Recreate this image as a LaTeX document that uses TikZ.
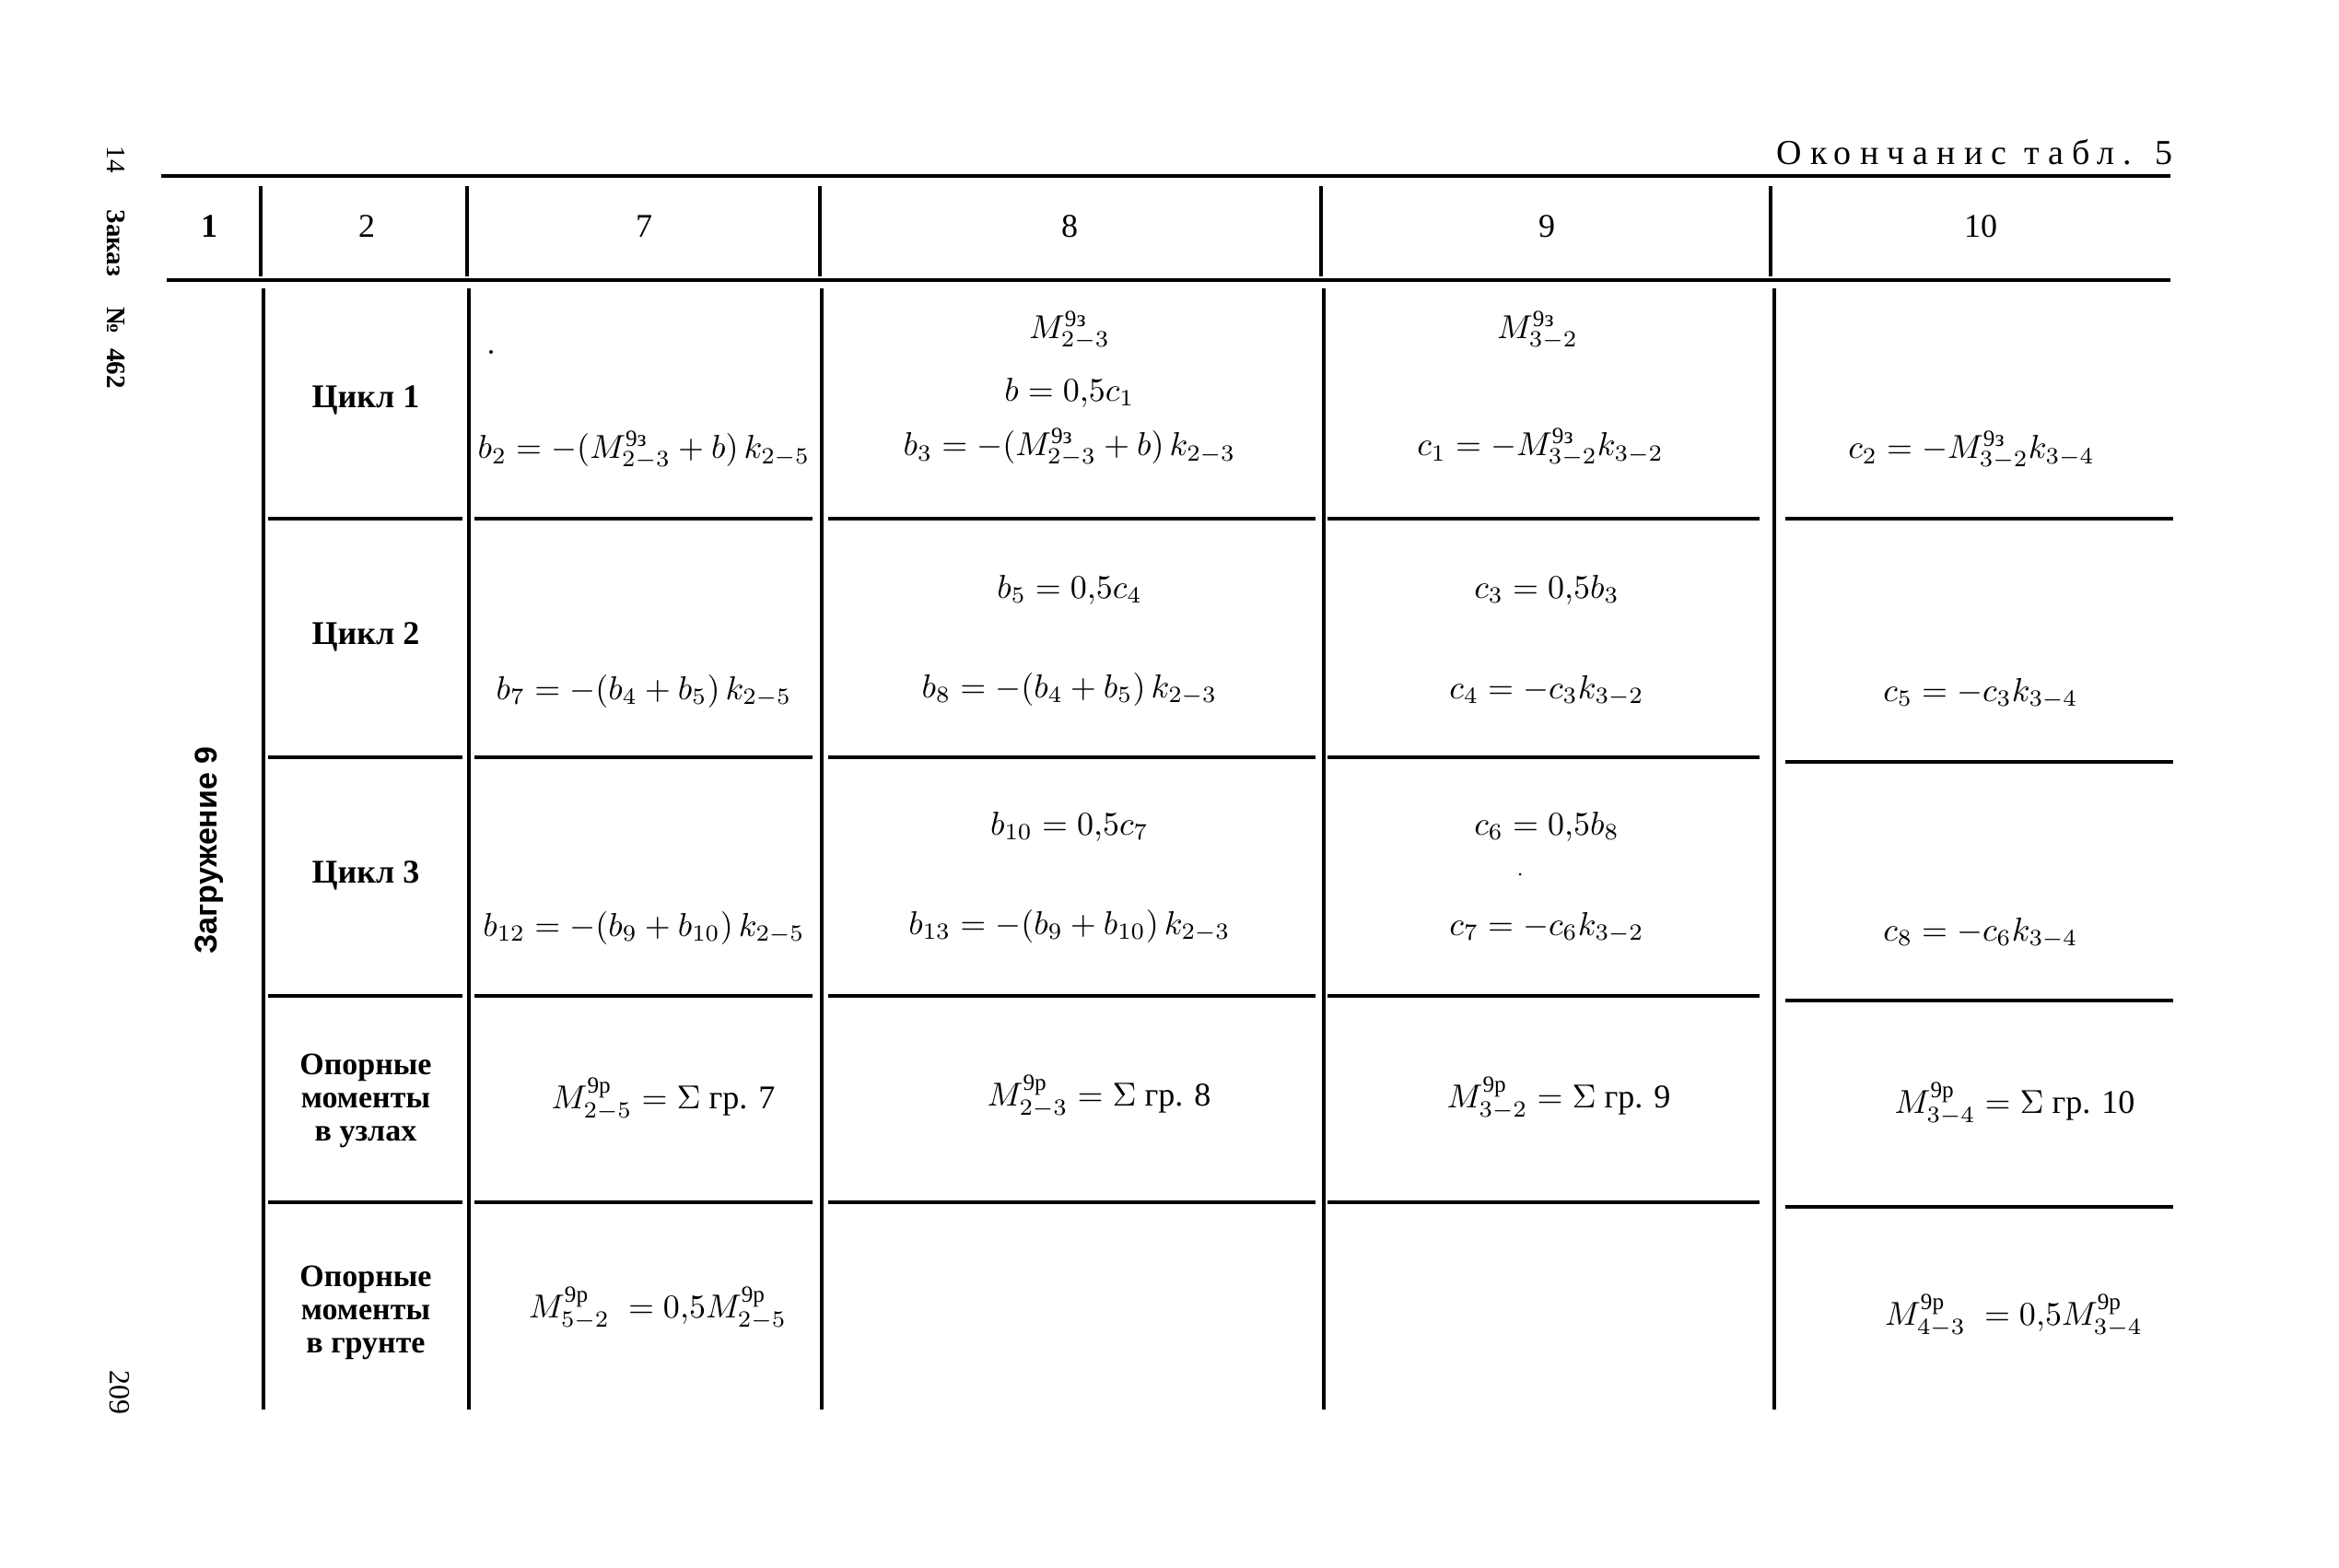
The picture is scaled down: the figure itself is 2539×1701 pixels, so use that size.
\documentclass[tikz,border=0pt]{standalone}
\usepackage{fontspec}
\usepackage{amsmath}
\setmainfont{Liberation Serif}
\setsansfont{Liberation Sans}
\newfontfamily\spacedfont[LetterSpace=24]{Liberation Serif}
\newcommand{\supz}{\text{9з}}
\newcommand{\supr}{\text{9р}}
\begin{document}
\begin{tikzpicture}[x=1pt,y=-1pt,
  rule/.style={line width=4.5pt},
  vline/.style={line width=3.2pt},
  hline/.style={line width=3.8pt},
  hdr/.style={scale=3.6,inner sep=0pt},
  lbl/.style={scale=3.4,inner sep=0pt,font=\bfseries,align=center},
  cyc/.style={scale=3.6,inner sep=0pt,font=\bfseries},
  fml/.style={scale=3.6,inner sep=0pt},
  marg/.style={scale=2.9,inner sep=0pt,rotate=-90},
]
\fill[white] (0,0) rectangle (2539,1701);
\useasboundingbox (0,0) rectangle (2539,1701);

% title and margin
\node[font=\spacedfont,scale=3.8,inner sep=0pt,anchor=east] (title) at (2359,165) {Окончанис табл. 5};
\node[marg] (m14) at (126,173) {14};
\node[marg,font=\bfseries] (mzak) at (126,264) {Заказ};
\node[marg,font=\bfseries] (mno) at (126,348) {№};
\node[marg,font=\bfseries] (m462) at (126,400) {462};
\node[marg,scale=1.1] (m209) at (130,1511) {209};

% rules
\draw[rule] (175,191) -- (2356,191);
\draw[rule] (181,304) -- (2356,304);
% header verticals
\foreach \x in {283,507,890,1434,1922} \draw[vline] (\x,202) -- (\x,300);
% body verticals
\foreach \x in {286,509,892,1437,1926} \draw[vline] (\x,313) -- (\x,1530);
% row separators
\foreach \y/\yy in {563/563,822/827,1081/1086,1305/1310} {
  \draw[hline] (291,\y) -- (502,\y);
  \draw[hline] (515,\y) -- (882,\y);
  \draw[hline] (899,\y) -- (1428,\y);
  \draw[hline] (1441,\y) -- (1910,\y);
  \draw[hline] (1938,\yy) -- (2359,\yy);
}

% header
\node[hdr,font=\bfseries] (h1) at (227,246) {1};
\node[hdr] (h2) at (398,246) {2};
\node[hdr] (h7) at (699,246) {7};
\node[hdr] (h8) at (1161,246) {8};
\node[hdr] (h9) at (1679,246) {9};
\node[hdr] (h10) at (2150,246) {10};

% column 1
\node[scale=3.4,inner sep=0pt,rotate=90,font=\sffamily\bfseries] (load) at (227,923) {Загружение 9};

% row labels
\node[cyc] (c1) at (397,434) {Цикл 1};
\node[cyc] (c2) at (397,691) {Цикл 2};
\node[cyc] (c3) at (397,950) {Цикл 3};
\node[lbl] (op1) at (397,1195) {Опорные\\[-1.4pt]моменты\\[-1.4pt]в узлах};
\node[lbl] (op2) at (397,1425) {Опорные\\[-1.4pt]моменты\\[-1.4pt]в грунте};

% specks
\fill (533,382) circle (2);
\fill (1650,949) circle (1.5);

% row 1
\node[fml] (r1c7) at (699,489) {$b_2=-(M^{\supz}_{2-3}+b)\,k_{2-5}$};
\node[fml] (r1c8a) at (1161,359) {$M^{\supz}_{2-3}$};
\node[fml] (r1c8b) at (1161,426) {$b=0{,}5c_1$};
\node[fml] (r1c8c) at (1161,486) {$b_3=-(M^{\supz}_{2-3}+b)\,k_{2-3}$};
\node[fml] (r1c9a) at (1669,359) {$M^{\supz}_{3-2}$};
\node[fml] (r1c9b) at (1672,486) {$c_1=-M^{\supz}_{3-2}k_{3-2}$};
\node[fml] (r1c10) at (2140,489) {$c_2=-M^{\supz}_{3-2}k_{3-4}$};

% row 2
\node[fml] (r2c7) at (699,750) {$b_7=-(b_4+b_5)\,k_{2-5}$};
\node[fml] (r2c8a) at (1161,640) {$b_5=0{,}5c_4$};
\node[fml] (r2c8b) at (1161,748) {$b_8=-(b_4+b_5)\,k_{2-3}$};
\node[fml] (r2c9a) at (1679,640) {$c_3=0{,}5b_3$};
\node[fml] (r2c9b) at (1679,750) {$c_4=-c_3k_{3-2}$};
\node[fml] (r2c10) at (2150,753) {$c_5=-c_3k_{3-4}$};

% row 3
\node[fml] (r3c7) at (699,1007) {$b_{12}=-(b_9+b_{10})\,k_{2-5}$};
\node[fml] (r3c8a) at (1161,897) {$b_{10}=0{,}5c_7$};
\node[fml] (r3c8b) at (1161,1005) {$b_{13}=-(b_9+b_{10})\,k_{2-3}$};
\node[fml] (r3c9a) at (1679,897) {$c_6=0{,}5b_8$};
\node[fml] (r3c9b) at (1679,1007) {$c_7=-c_6k_{3-2}$};
\node[fml] (r3c10) at (2150,1013) {$c_8=-c_6k_{3-4}$};

% row 4
\node[fml] (r4c7) at (720,1193) {$M^{\supr}_{2-5}=\Sigma\ \text{гр. 7}$};
\node[fml] (r4c8) at (1193,1190) {$M^{\supr}_{2-3}=\Sigma\ \text{гр. 8}$};
\node[fml] (r4c9) at (1692,1192) {$M^{\supr}_{3-2}=\Sigma\ \text{гр. 9}$};
\node[fml] (r4c10) at (2187,1198) {$M^{\supr}_{3-4}=\Sigma\ \text{гр. 10}$};

% row 5
\node[fml] (r5c7) at (714,1420) {$M^{\supr}_{5-2}\;=0{,}5M^{\supr}_{2-5}$};
\node[fml] (r5c10) at (2186,1428) {$M^{\supr}_{4-3}\;=0{,}5M^{\supr}_{3-4}$};
\end{tikzpicture}
\end{document}
